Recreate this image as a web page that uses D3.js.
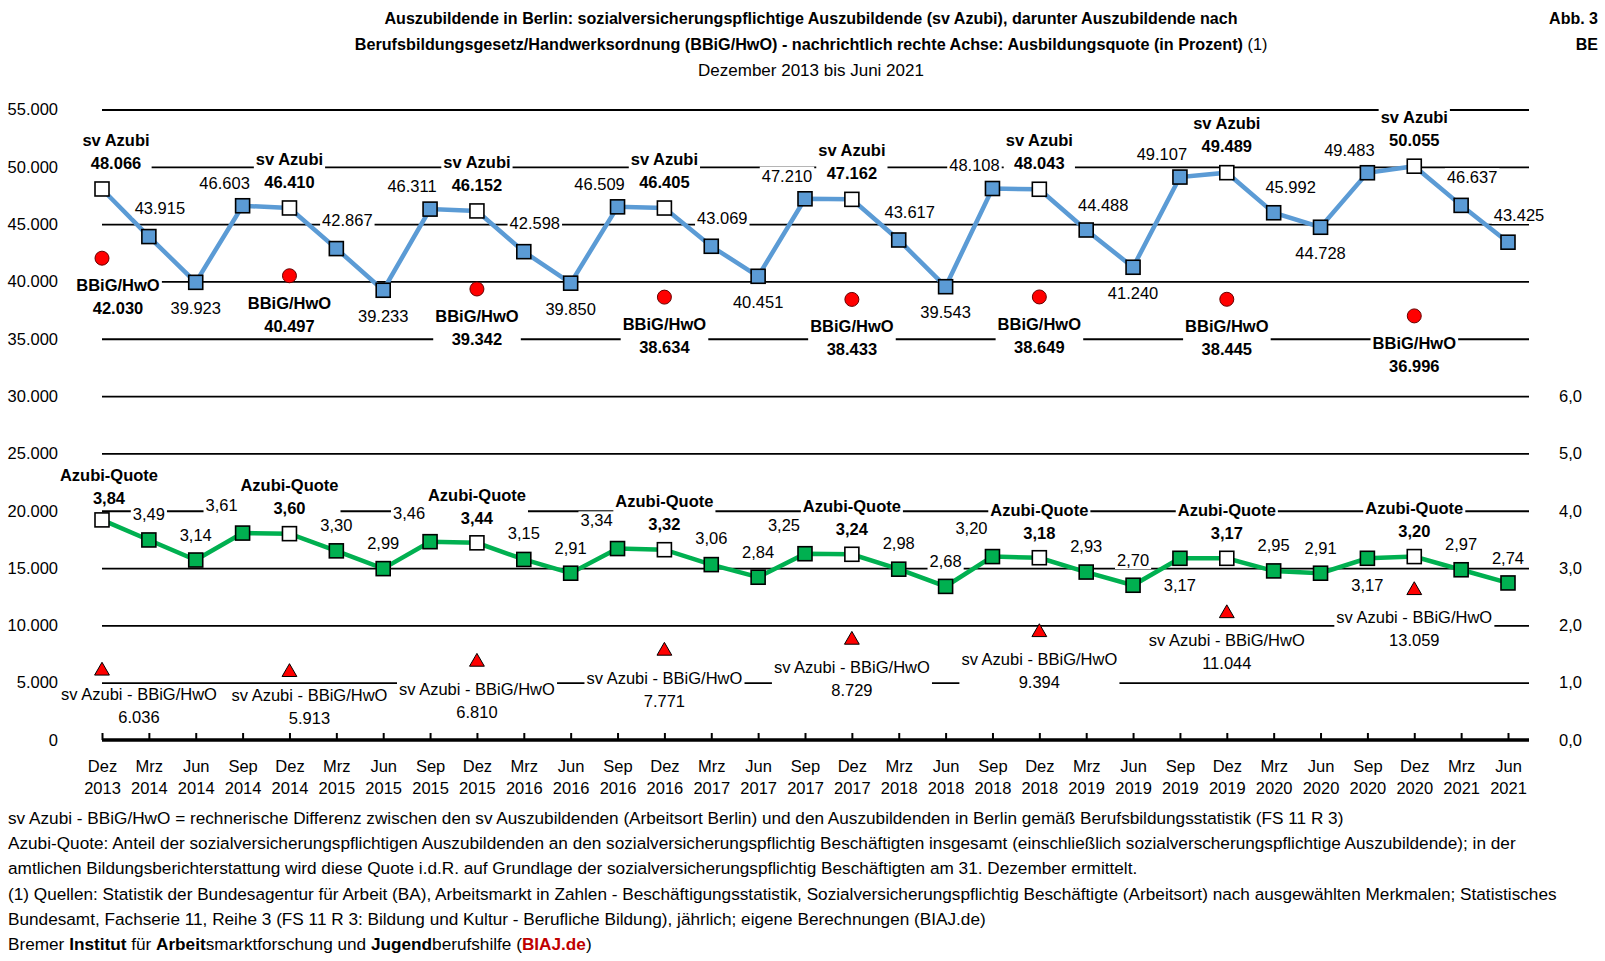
<!DOCTYPE html>
<html>
<head>
<meta charset="utf-8">
<script src="https://cdn.jsdelivr.net/npm/d3@7"></script>
<style>
body { margin: 0; background: #fff; }
svg text { font-family: "Liberation Sans", Arial, sans-serif; fill: #000; }
</style>
</head>
<body>
<div id="chart"></div>
<script>
var WIDTH = 1605;
var HEIGHT = 961;
var X_LEFT = 102;
var X_RIGHT = 1508;
var GRID_END = 1529;
var Y_ZERO = 740;
var Y_TOP = 109.5;
var FONT = 16.5;
var LINE_GAP = 23;

// categories (quarter ends)
var PERIODS = [
  "Dez 2013", "Mrz 2014", "Jun 2014", "Sep 2014", "Dez 2014", "Mrz 2015", "Jun 2015", "Sep 2015",
  "Dez 2015", "Mrz 2016", "Jun 2016", "Sep 2016", "Dez 2016", "Mrz 2017", "Jun 2017", "Sep 2017",
  "Dez 2017", "Mrz 2018", "Jun 2018", "Sep 2018", "Dez 2018", "Mrz 2019", "Jun 2019", "Sep 2019",
  "Dez 2019", "Mrz 2020", "Jun 2020", "Sep 2020", "Dez 2020", "Mrz 2021", "Jun 2021"
];
// sozialversicherungspflichtige Auszubildende
var SV_AZUBI = [
  48066, 43915, 39923, 46603, 46410, 42867, 39233, 46311,
  46152, 42598, 39850, 46509, 46405, 43069, 40451, 47210,
  47162, 43617, 39543, 48108, 48043, 44488, 41240, 49107,
  49489, 45992, 44728, 49483, 50055, 46637, 43425
];
// Ausbildungsquote in Prozent (rechte Achse)
var AZUBI_QUOTE = [
  3.84, 3.49, 3.14, 3.61, 3.60, 3.30, 2.99, 3.46,
  3.44, 3.15, 2.91, 3.34, 3.32, 3.06, 2.84, 3.25,
  3.24, 2.98, 2.68, 3.20, 3.18, 2.93, 2.70, 3.17,
  3.17, 2.95, 2.91, 3.17, 3.20, 2.97, 2.74
];
// only at 31. Dezember
var DEZ_PERIODS = ["Dez 2013", "Dez 2014", "Dez 2015", "Dez 2016", "Dez 2017", "Dez 2018", "Dez 2019", "Dez 2020"];
var BBIG_HWO = [42030, 40497, 39342, 38634, 38433, 38649, 38445, 36996];
var SV_MINUS_BBIG = [6036, 5913, 6810, 7771, 8729, 9394, 11044, 13059];

var LEFT_TICKS = [0, 5000, 10000, 15000, 20000, 25000, 30000, 35000, 40000, 45000, 50000, 55000];
var RIGHT_TICKS = [0, 1, 2, 3, 4, 5, 6];

var TITLE_1 = "Auszubildende in Berlin: sozialversicherungspflichtige Auszubildende (sv Azubi), darunter Auszubildende nach";
var TITLE_2 = "Berufsbildungsgesetz/Handwerksordnung (BBiG/HwO) - nachrichtlich rechte Achse: Ausbildungsquote (in Prozent)";
var SUBTITLE = "Dezember 2013 bis Juni 2021";
var NOTES = [
  "sv Azubi - BBiG/HwO = rechnerische Differenz zwischen den sv Auszubildenden (Arbeitsort Berlin) und den Auszubildenden in Berlin gemäß Berufsbildungsstatistik (FS 11 R 3)",
  "Azubi-Quote: Anteil der sozialversicherungspflichtigen Auszubildenden an den sozialversicherungspflichtig Beschäftigten insgesamt (einschließlich sozialverscherungspflichtige Auszubildende); in der",
  "amtlichen Bildungsberichterstattung  wird diese Quote i.d.R. auf Grundlage der sozialversicherungspflichtig Beschäftigten am 31. Dezember ermittelt.",
  "(1) Quellen: Statistik der Bundesagentur für Arbeit (BA), Arbeitsmarkt in Zahlen - Beschäftigungsstatistik, Sozialversicherungspflichtig Beschäftigte (Arbeitsort) nach ausgewählten Merkmalen; Statistisches",
  "Bundesamt, Fachserie 11, Reihe 3 (FS 11 R 3: Bildung und Kultur - Berufliche Bildung), jährlich; eigene  Berechnungen (BIAJ.de)"
];

// label placement (offset of label centre from point)
var SV_OFFSET = { Mrz: [11, -28], Jun: [0, 26], Sep: [-18, -23] };
var SV_SPECIAL = { "Mrz 2019": [17, -25], "Mrz 2020": [17, -26], "Jun 2021": [11, -27] };
var QUOTE_OFFSET = { Mrz: [0, -26], Jun: [0, -25], Sep: [-21, -28] };
var QUOTE_SPECIAL = { "Sep 2019": [0, 27], "Sep 2020": [0, 27] };

var BLUE = "#5b9bd5";
var GREEN = "#00b050";
var RED = "#ff0000";

var de = d3.formatLocale({ decimal: ",", thousands: ".", grouping: [3], currency: ["", " €"] });
var fmtInt = de.format(",.0f");
var fmtQuote = de.format(".2f");
var fmtAxisR = de.format(".1f");

var x = d3.scalePoint().domain(PERIODS).range([X_LEFT, X_RIGHT]);
var yLeft = d3.scaleLinear().domain([0, 55000]).range([Y_ZERO, Y_TOP]);
var yRight = d3.scaleLinear().domain([0, 11]).range([Y_ZERO, Y_TOP]);

var svg = d3.select("#chart").append("svg")
    .attr("width", WIDTH)
    .attr("height", HEIGHT)
    .style("display", "block");

function addLabel(layer, cx, cy, lines, bold) {
    var g = layer.append("g");
    var t = g.append("text")
        .attr("text-anchor", "middle")
        .attr("font-size", FONT)
        .attr("font-weight", bold ? "bold" : "normal");
    lines.forEach(function (s, k) {
        t.append("tspan").attr("x", cx).attr("y", cy + k * LINE_GAP).attr("dy", "0.35em").text(s);
    });
    var bb = t.node().getBBox();
    g.insert("rect", "text")
        .attr("x", bb.x - 2).attr("y", bb.y)
        .attr("width", bb.width + 4).attr("height", bb.height)
        .attr("fill", "#fff");
}

function drawTitle() {
    var t = svg.append("g").attr("text-anchor", "middle");
    t.append("text").attr("x", 811).attr("y", 24).attr("font-size", 16.1).attr("font-weight", "bold").text(TITLE_1);
    var l2 = t.append("text").attr("x", 811).attr("y", 50).attr("font-size", 16.2);
    l2.append("tspan").attr("font-weight", "bold").text(TITLE_2);
    l2.append("tspan").text(" (1)");
    t.append("text").attr("x", 811).attr("y", 76).attr("font-size", 17).text(SUBTITLE);
    var r = svg.append("g").attr("font-size", 16).attr("font-weight", "bold").attr("text-anchor", "end");
    r.append("text").attr("x", 1598).attr("y", 24).text("Abb. 3");
    r.append("text").attr("x", 1598).attr("y", 50).text("BE");
}

function drawAxes() {
    var grid = svg.append("g")
        .attr("transform", "translate(" + X_LEFT + ",0)")
        .call(d3.axisLeft(yLeft).tickValues(LEFT_TICKS.slice(1)).tickSize(-(GRID_END - X_LEFT)).tickFormat(""));
    grid.select(".domain").remove();
    grid.selectAll("line").attr("stroke", "#000").attr("stroke-width", 1.8);

    var left = svg.append("g")
        .attr("transform", "translate(58,0)")
        .call(d3.axisLeft(yLeft).tickValues(LEFT_TICKS).tickSize(0).tickPadding(0).tickFormat(fmtInt));
    left.select(".domain").remove();
    left.selectAll("text").attr("font-size", FONT).attr("font-family", null);

    var right = svg.append("g")
        .attr("transform", "translate(1559,0)")
        .call(d3.axisRight(yRight).tickValues(RIGHT_TICKS).tickSize(0).tickPadding(0).tickFormat(fmtAxisR));
    right.select(".domain").remove();
    right.selectAll("text").attr("font-size", FONT).attr("font-family", null);

    var bottom = svg.append("g")
        .attr("transform", "translate(0," + Y_ZERO + ")")
        .call(d3.axisBottom(x).tickSizeInner(-7).tickSizeOuter(0).tickPadding(0));
    bottom.select(".domain").remove();
    bottom.selectAll("line").attr("stroke", "#000").attr("stroke-width", 2);
    bottom.selectAll("text").each(function (d) {
        var parts = d.split(" ");
        var t = d3.select(this).text(null).attr("font-size", FONT).attr("font-family", null).attr("y", null).attr("dy", null);
        t.append("tspan").attr("x", 0).attr("y", 26).attr("dy", "0.35em").text(parts[0]);
        t.append("tspan").attr("x", 0).attr("y", 48).attr("dy", "0.35em").text(parts[1]);
    });
    svg.append("line")
        .attr("x1", X_LEFT).attr("x2", GRID_END)
        .attr("y1", Y_ZERO).attr("y2", Y_ZERO)
        .attr("stroke", "#000").attr("stroke-width", 3.5);
}

function drawSeries() {
    var sv = PERIODS.map(function (p, i) { return { p: p, v: SV_AZUBI[i] }; });
    var q = PERIODS.map(function (p, i) { return { p: p, v: AZUBI_QUOTE[i] }; });

    svg.append("path").datum(sv)
        .attr("fill", "none").attr("stroke", BLUE).attr("stroke-width", 4.5)
        .attr("d", d3.line().x(function (d) { return x(d.p); }).y(function (d) { return yLeft(d.v); }));
    svg.append("path").datum(q)
        .attr("fill", "none").attr("stroke", GREEN).attr("stroke-width", 4.5)
        .attr("d", d3.line().x(function (d) { return x(d.p); }).y(function (d) { return yRight(d.v); }));

    var S = 14;
    svg.selectAll("rect.sv").data(sv).enter().append("rect")
        .attr("x", function (d) { return x(d.p) - S / 2; })
        .attr("y", function (d) { return yLeft(d.v) - S / 2; })
        .attr("width", S).attr("height", S)
        .attr("fill", function (d) { return d.p.indexOf("Dez") === 0 ? "#fff" : BLUE; })
        .attr("stroke", "#000").attr("stroke-width", 1.6);
    svg.selectAll("rect.q").data(q).enter().append("rect")
        .attr("x", function (d) { return x(d.p) - S / 2; })
        .attr("y", function (d) { return yRight(d.v) - S / 2; })
        .attr("width", S).attr("height", S)
        .attr("fill", function (d) { return d.p.indexOf("Dez") === 0 ? "#fff" : GREEN; })
        .attr("stroke", "#000").attr("stroke-width", 1.6);

    svg.selectAll("circle.bbig").data(DEZ_PERIODS).enter().append("circle")
        .attr("cx", function (p) { return x(p); })
        .attr("cy", function (p, i) { return yLeft(BBIG_HWO[i]); })
        .attr("r", 7)
        .attr("fill", RED).attr("stroke", "#600").attr("stroke-width", 1);

    var tri = d3.symbol().type(d3.symbolTriangle).size(95);
    svg.selectAll("path.diff").data(DEZ_PERIODS).enter().append("path")
        .attr("d", tri)
        .attr("transform", function (p, i) { return "translate(" + x(p) + "," + yLeft(SV_MINUS_BBIG[i]) + ")"; })
        .attr("fill", RED).attr("stroke", "#000").attr("stroke-width", 1);
}

function drawLabels() {
    var layer = svg.append("g");
    PERIODS.forEach(function (p, i) {
        var m = p.split(" ")[0];
        var px = x(p);
        var ys = yLeft(SV_AZUBI[i]);
        var yq = yRight(AZUBI_QUOTE[i]);
        if (m === "Dez") {
            var first = i === 0;
            addLabel(layer, px + (first ? 14 : 0), ys - 49, ["sv Azubi", fmtInt(SV_AZUBI[i])], true);
            addLabel(layer, px + (first ? 7 : 0), yq - (first ? 45 : 48), ["Azubi-Quote", fmtQuote(AZUBI_QUOTE[i])], true);
        } else {
            var o = SV_SPECIAL[p] || SV_OFFSET[m];
            addLabel(layer, px + o[0], ys + o[1], [fmtInt(SV_AZUBI[i])], false);
            var oq = QUOTE_SPECIAL[p] || QUOTE_OFFSET[m];
            addLabel(layer, px + oq[0], yq + oq[1], [fmtQuote(AZUBI_QUOTE[i])], false);
        }
    });
    DEZ_PERIODS.forEach(function (p, i) {
        var px = x(p);
        addLabel(layer, px + (i === 0 ? 16 : 0), yLeft(BBIG_HWO[i]) + 27, ["BBiG/HwO", fmtInt(BBIG_HWO[i])], true);
        var dx = i === 0 ? 37 : (i === 1 ? 20 : 0);
        var dy = i < 2 ? 23 : 27;
        addLabel(layer, px + dx, yLeft(SV_MINUS_BBIG[i]) + dy, ["sv Azubi - BBiG/HwO", fmtInt(SV_MINUS_BBIG[i])], false);
    });
}

function drawNotes() {
    var g = svg.append("g").attr("font-size", 17.2).style("white-space", "pre");
    var step = 25.2;
    NOTES.forEach(function (s, k) {
        g.append("text").attr("x", 8).attr("y", 824 + k * step).text(s);
    });
    var last = g.append("text").attr("x", 8).attr("y", 824 + NOTES.length * step);
    var parts = [["Bremer ", 0], ["Institut", 1], [" für ", 0], ["Arbeit", 1], ["smarktforschung und ", 0],
                 ["Jugend", 1], ["berufshilfe (", 0], ["BIAJ.de", 2], [")", 0]];
    parts.forEach(function (pt) {
        last.append("tspan")
            .attr("font-weight", pt[1] ? "bold" : "normal")
            .style("fill", pt[1] === 2 ? "#c00000" : "#000")
            .text(pt[0]);
    });
}

drawTitle();
drawAxes();
drawSeries();
drawLabels();
drawNotes();
</script>
</body>
</html>
